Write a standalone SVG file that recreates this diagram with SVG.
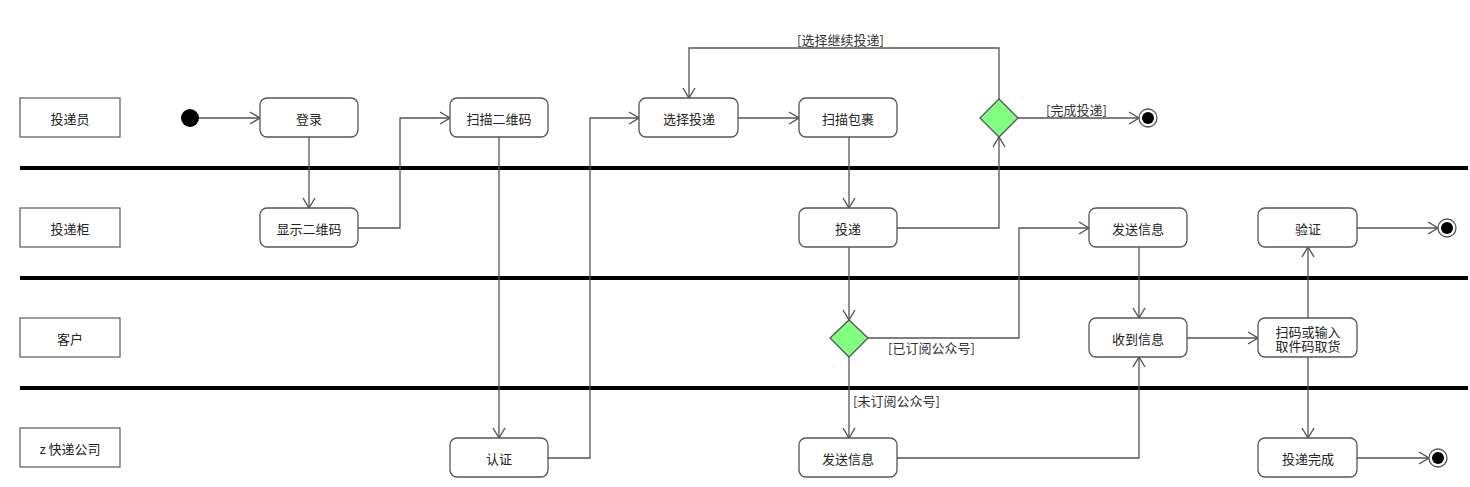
<svg xmlns="http://www.w3.org/2000/svg" width="1470" height="487" viewBox="0 0 1470 487">
<defs>
<marker id="arr" viewBox="0 0 12 14" refX="11" refY="7" markerWidth="12" markerHeight="14" markerUnits="userSpaceOnUse" orient="auto">
<path d="M1,1 L11,7 L1,13" fill="none" stroke="#555" stroke-width="1.4"/>
</marker>
<style>
text{font-family:"Noto Sans CJK SC","Liberation Sans",sans-serif;font-size:13px;fill:#222;text-anchor:middle;dominant-baseline:central}
.lane{fill:#fff;stroke:#666;stroke-width:1.3}
.node{fill:#fff;stroke:#555;stroke-width:1.3}
.dec{fill:#80ff80;stroke:#555;stroke-width:1.3}
.sep{stroke:#000;stroke-width:4}
.c{fill:none;stroke:#555;stroke-width:1.3;marker-end:url(#arr)}
.g{text-anchor:start;fill:#333}
</style>
</defs>
<rect width="1470" height="487" fill="#fff"/>
<g id="separators">
<line class="sep" x1="20" y1="168" x2="1468" y2="168"/>
<line class="sep" x1="20" y1="278" x2="1468" y2="278"/>
<line class="sep" x1="20" y1="388" x2="1468" y2="388"/>
</g>
<g id="lane-courier"><rect class="lane" x="20" y="98" width="100" height="39"/><text x="70" y="118">投递员</text></g>
<g id="lane-cabinet"><rect class="lane" x="20" y="208" width="100" height="39"/><text x="70" y="228">投递柜</text></g>
<g id="lane-customer"><rect class="lane" x="20" y="318" width="100" height="39"/><text x="70" y="338">客户</text></g>
<g id="lane-company"><rect class="lane" x="20" y="428" width="100" height="39"/><text x="70" y="448">z 快递公司</text></g>

<g id="connectors">
<path class="c" d="M199,118 H260"/>
<path class="c" d="M309,137 V208"/>
<path class="c" d="M358,228 H400 V118 H450"/>
<path class="c" d="M499,137 V438"/>
<path class="c" d="M548,458 H590 V118 H639"/>
<path class="c" d="M738,118 H799"/>
<path class="c" d="M849,137 V208"/>
<path class="c" d="M897,228 H999 V137"/>
<path class="c" d="M999,99 V48 H689 V98"/>
<path class="c" d="M1018,118 H1139"/>
<path class="c" d="M849,247 V320"/>
<path class="c" d="M868,338 H1019 V228 H1089"/>
<path class="c" d="M849,357 V438"/>
<path class="c" d="M897,458 H1139 V357"/>
<path class="c" d="M1139,247 V318"/>
<path class="c" d="M1187,338 H1258"/>
<path class="c" d="M1308,318 V247"/>
<path class="c" d="M1308,357 V438"/>
<path class="c" d="M1357,228 H1438"/>
<path class="c" d="M1357,458 H1429"/>
<text class="g" x="797" y="39">[选择继续投递]</text>
<text class="g" x="1046" y="109">[完成投递]</text>
<text class="g" x="888" y="347">[已订阅公众号]</text>
<text class="g" x="853" y="400">[未订阅公众号]</text>
</g>

<g id="start"><circle cx="190" cy="118" r="9" fill="#000"/></g>
<g id="login"><rect class="node" x="260" y="98" width="98" height="39" rx="7"/><text x="309" y="118">登录</text></g>
<g id="show-qr"><rect class="node" x="260" y="208" width="98" height="39" rx="7"/><text x="309" y="228">显示二维码</text></g>
<g id="scan-qr"><rect class="node" x="450" y="98" width="98" height="39" rx="7"/><text x="499" y="118">扫描二维码</text></g>
<g id="auth"><rect class="node" x="450" y="438" width="98" height="39" rx="7"/><text x="499" y="458">认证</text></g>
<g id="choose"><rect class="node" x="639" y="98" width="99" height="39" rx="7"/><text x="689" y="118">选择投递</text></g>
<g id="scan-pkg"><rect class="node" x="799" y="98" width="98" height="39" rx="7"/><text x="848" y="118">扫描包裹</text></g>
<g id="deliver"><rect class="node" x="799" y="208" width="98" height="39" rx="7"/><text x="848" y="228">投递</text></g>
<g id="decision1"><path class="dec" d="M999,99 L1018,118 L999,137 L980,118 Z"/></g>
<g id="end1"><circle cx="1148" cy="118" r="9" fill="#fff" stroke="#555" stroke-width="1.3"/><circle cx="1148" cy="118" r="6" fill="#000"/></g>
<g id="decision2"><path class="dec" d="M849,320 L868,338 L849,357 L830,338 Z"/></g>
<g id="send-top"><rect class="node" x="1089" y="208" width="98" height="39" rx="7"/><text x="1138" y="228">发送信息</text></g>
<g id="send-bottom"><rect class="node" x="799" y="438" width="98" height="39" rx="7"/><text x="848" y="458">发送信息</text></g>
<g id="receive"><rect class="node" x="1089" y="318" width="98" height="39" rx="7"/><text x="1138" y="338">收到信息</text></g>
<g id="pickup"><rect class="node" x="1258" y="318" width="99" height="39" rx="7"/><text x="1308" y="331"><tspan x="1308" y="331">扫码或输入</tspan><tspan x="1308" y="345">取件码取货</tspan></text></g>
<g id="verify"><rect class="node" x="1258" y="208" width="99" height="39" rx="7"/><text x="1308" y="228">验证</text></g>
<g id="done"><rect class="node" x="1258" y="438" width="99" height="39" rx="7"/><text x="1308" y="458">投递完成</text></g>
<g id="end2"><circle cx="1447" cy="228" r="9" fill="#fff" stroke="#555" stroke-width="1.3"/><circle cx="1447" cy="228" r="6" fill="#000"/></g>
<g id="end3"><circle cx="1438" cy="458" r="9" fill="#fff" stroke="#555" stroke-width="1.3"/><circle cx="1438" cy="458" r="6" fill="#000"/></g>
</svg>
